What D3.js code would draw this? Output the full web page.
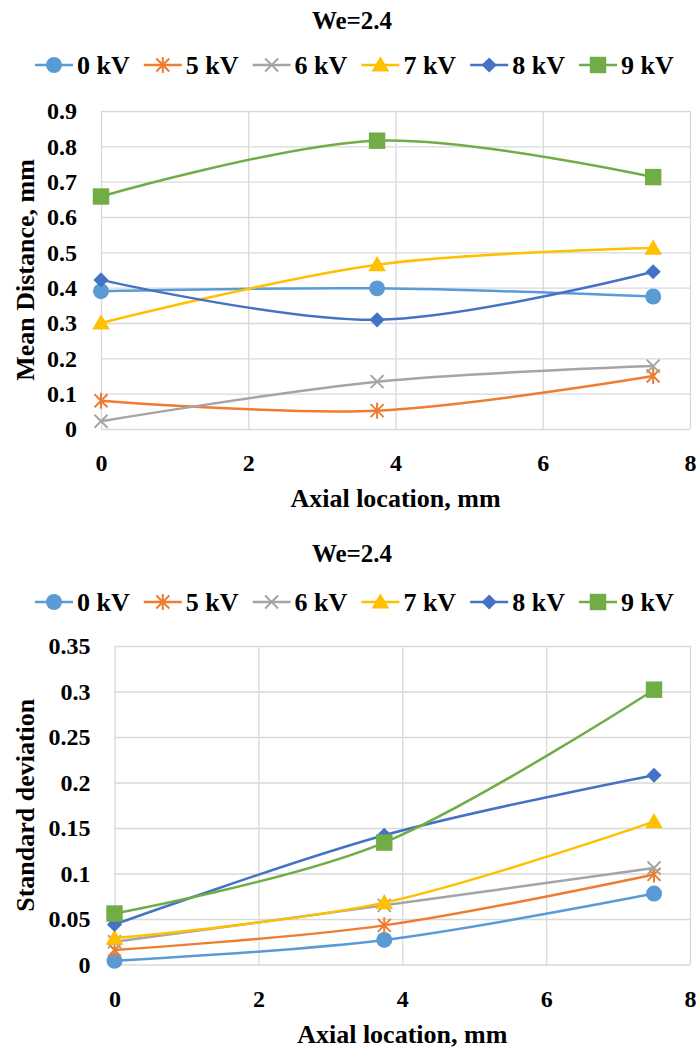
<!DOCTYPE html>
<html>
<head>
<meta charset="utf-8">
<script src="https://cdnjs.cloudflare.com/ajax/libs/d3/7.8.5/d3.min.js"></script>
<style>
  body { margin: 0; background: #fff; }
</style>
</head>
<body>
<svg id="chart" width="699" height="1048"></svg>
<script>
// data
var series = ["0 kV", "5 kV", "6 kV", "7 kV", "8 kV", "9 kV"];
var colors = ["#5B9BD5", "#ED7D31", "#A5A5A5", "#FFC000", "#4472C4", "#70AD47"];
var markers = ["circle", "star", "x", "triangle", "diamond", "square"];
var axial = [0, 3.75, 7.5];

var meanDist = [
	[0.390, 0.398, 0.375],
	[0.080, 0.052, 0.150],
	[0.022, 0.134, 0.178],
	[0.300, 0.465, 0.512],
	[0.422, 0.309, 0.445],
	[0.658, 0.816, 0.713]
];
var stdDev = [
	[0.004, 0.027, 0.078],
	[0.016, 0.043, 0.099],
	[0.025, 0.065, 0.106],
	[0.029, 0.068, 0.157],
	[0.044, 0.142, 0.208],
	[0.056, 0.134, 0.302]
];

var xTicks = [0, 2, 4, 6, 8];
var meanTicks = [0, 0.1, 0.2, 0.3, 0.4, 0.5, 0.6, 0.7, 0.8, 0.9];
var stdTicks = [0, 0.05, 0.1, 0.15, 0.2, 0.25, 0.3, 0.35];

var serif = "'Liberation Serif', 'Times New Roman', Times, Tinos, 'Noto Serif', 'DejaVu Serif', FreeSerif, serif";
var svg = d3.select("#chart")
	.attr("font-family", serif)
	.attr("font-weight", "bold");

function fmt(d) {
	return d === 0 ? "0" : String(+d.toFixed(2));
}

function drawMarker(g, type, color) {
	if (type == "star" || type == "x") {
		var s = 6.5;
		var p = "M" + (-s) + "," + (-s) + "L" + s + "," + s + "M" + (-s) + "," + s + "L" + s + "," + (-s);
		if (type == "star") p += "M0," + (-s - 1.5) + "L0," + (s + 1.5);
		g.append("path").attr("d", p)
			.attr("fill", "none")
			.attr("stroke", color)
			.attr("stroke-width", 2);
	} else if (type == "diamond") {
		g.append("path")
			.attr("d", d3.symbol(d3.symbolSquare, 115)())
			.attr("transform", "rotate(45)")
			.attr("fill", color);
	} else if (type == "triangle") {
		g.append("path")
			.attr("d", d3.symbol(d3.symbolTriangle, 135)())
			.attr("transform", "translate(0,1.5)")
			.attr("fill", color);
	} else if (type == "square") {
		g.append("path").attr("d", d3.symbol(d3.symbolSquare, 270)()).attr("fill", color);
	} else {
		g.append("path").attr("d", d3.symbol(d3.symbolCircle, 200)()).attr("fill", color);
	}
}

function drawChart(c) {
	var x = d3.scaleLinear().domain([0, 8]).range([c.left, c.right]);
	var y = d3.scaleLinear().domain([0, c.yMax]).range([c.bottom, c.top]);

	// title
	svg.append("text")
		.attr("x", 352).attr("y", c.titleY).attr("dy", "0.35em")
		.attr("text-anchor", "middle")
		.attr("font-size", 25)
		.text("We=2.4");

	// legend
	var leg = svg.append("g");
	series.forEach(function(name, i) {
		var x0 = 35 + i * 108.8;
		var item = leg.append("g").attr("transform", "translate(" + x0 + "," + c.legendY + ")");
		item.append("line")
			.attr("x1", 0).attr("x2", 38)
			.attr("stroke", colors[i]).attr("stroke-width", 2.5);
		drawMarker(item.append("g").attr("transform", "translate(19,0)"), markers[i], colors[i]);
		item.append("text")
			.attr("x", 42).attr("dy", "0.35em")
			.attr("font-size", 26)
			.text(name);
	});

	// grid
	svg.append("g")
		.attr("transform", "translate(0," + c.bottom + ")")
		.call(d3.axisBottom(x).tickValues(xTicks).tickSize(-(c.bottom - c.top)).tickFormat(""))
		.call(g => g.select(".domain").remove())
		.selectAll("line").attr("stroke", "#d9d9d9").attr("stroke-width", 1.3);
	svg.append("g")
		.attr("transform", "translate(" + c.left + ",0)")
		.call(d3.axisLeft(y).tickValues(c.yTicks).tickSize(-(c.right - c.left)).tickFormat(""))
		.call(g => g.select(".domain").remove())
		.selectAll("line").attr("stroke", "#d9d9d9").attr("stroke-width", 1.3);

	// tick labels
	svg.append("g")
		.attr("transform", "translate(0," + c.bottom + ")")
		.call(d3.axisBottom(x).tickValues(xTicks).tickSize(0).tickPadding(34).tickFormat(d3.format("d")))
		.attr("font-family", serif).attr("font-size", 24)
		.call(g => g.select(".domain").remove())
		.selectAll("text").attr("dy", "0.35em").attr("fill", "#000");
	svg.append("g")
		.attr("transform", "translate(" + c.left + ",0)")
		.call(d3.axisLeft(y).tickValues(c.yTicks).tickSize(0).tickPadding(24).tickFormat(fmt))
		.attr("font-family", serif).attr("font-size", 24)
		.call(g => g.select(".domain").remove())
		.selectAll("text").attr("fill", "#000");

	// axis titles
	svg.append("text")
		.attr("x", (c.left + c.right) / 2).attr("y", c.bottom + 69).attr("dy", "0.35em")
		.attr("text-anchor", "middle")
		.attr("font-size", 26)
		.text("Axial location, mm");
	svg.append("text")
		.attr("transform", "translate(25," + (c.top + c.bottom) / 2 + ") rotate(-90)")
		.attr("dy", "0.35em")
		.attr("text-anchor", "middle")
		.attr("font-size", 26)
		.text(c.yTitle);

	// series
	var line = d3.line()
		.x((d, i) => x(axial[i]))
		.y(d => y(d))
		.curve(d3.curveCardinal.tension(0));

	c.values.forEach(function(vals, i) {
		svg.append("path")
			.attr("d", line(vals))
			.attr("fill", "none")
			.attr("stroke", colors[i])
			.attr("stroke-width", 2.5);
		vals.forEach(function(v, j) {
			drawMarker(svg.append("g").attr("transform", "translate(" + x(axial[j]) + "," + y(v) + ")"), markers[i], colors[i]);
		});
	});
}

drawChart({
	left: 101, right: 690, top: 111, bottom: 429,
	titleY: 20, legendY: 65,
	yMax: 0.9, yTicks: meanTicks,
	yTitle: "Mean Distance, mm",
	values: meanDist
});

drawChart({
	left: 114.5, right: 690, top: 646, bottom: 964.5,
	titleY: 553, legendY: 602,
	yMax: 0.35, yTicks: stdTicks,
	yTitle: "Standard deviation",
	values: stdDev
});
</script>
</body>
</html>
